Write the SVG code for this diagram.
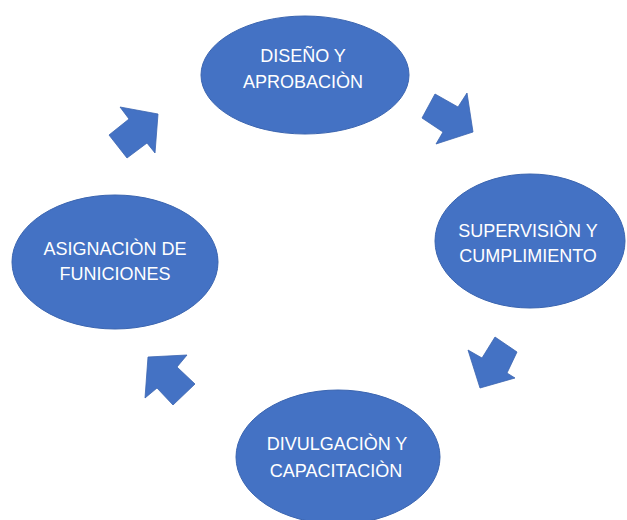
<svg xmlns="http://www.w3.org/2000/svg" width="627" height="520" viewBox="0 0 627 520">
  <style>
    .node { fill: #4472C4; stroke: #3B65B0; stroke-width: 1; }
    .arrow { fill: #4472C4; stroke: #3B65B0; stroke-width: 0.8; stroke-linejoin: miter; }
    .label { font-family: "Liberation Sans", Arial, sans-serif; font-size: 18px; fill: #FFFFFF; text-anchor: middle; }
  </style>
  <rect width="627" height="520" fill="#FFFFFF"/>
  <g id="node-diseno">
    <ellipse class="node" cx="305" cy="75" rx="104" ry="59"/>
    <text class="label" x="303" y="62">DISEÑO Y</text>
    <text class="label" x="303" y="88">APROBACIÒN</text>
  </g>
  <g id="node-supervision">
    <ellipse class="node" cx="530" cy="241" rx="95" ry="67"/>
    <text class="label" x="528" y="237">SUPERVISIÒN Y</text>
    <text class="label" x="528" y="262">CUMPLIMIENTO</text>
  </g>
  <g id="node-divulgacion">
    <ellipse class="node" cx="338" cy="457" rx="102" ry="67"/>
    <text class="label" x="337" y="450">DIVULGACIÒN Y</text>
    <text class="label" x="336" y="477">CAPACITACIÒN</text>
  </g>
  <g id="node-asignacion">
    <ellipse class="node" cx="115" cy="262" rx="103" ry="67"/>
    <text class="label" x="115" y="255">ASIGNACIÒN DE</text>
    <text class="label" x="115" y="280">FUNICIONES</text>
  </g>
  <g id="connectors">
    <polygon class="arrow" points="120,107 158,114 155,153 147,143 127,158 109,135 129,119"/>
    <polygon class="arrow" points="435,94 458,107 467,93 473,132 436,144 443,132 422,118"/>
    <polygon class="arrow" points="495,337 517,352 507,373 515,378 480,388 468,350 482,358"/>
    <polygon class="arrow" points="148,357 187,355 177,367 195,384 173,405 157,388 145,398"/>
  </g>
</svg>
